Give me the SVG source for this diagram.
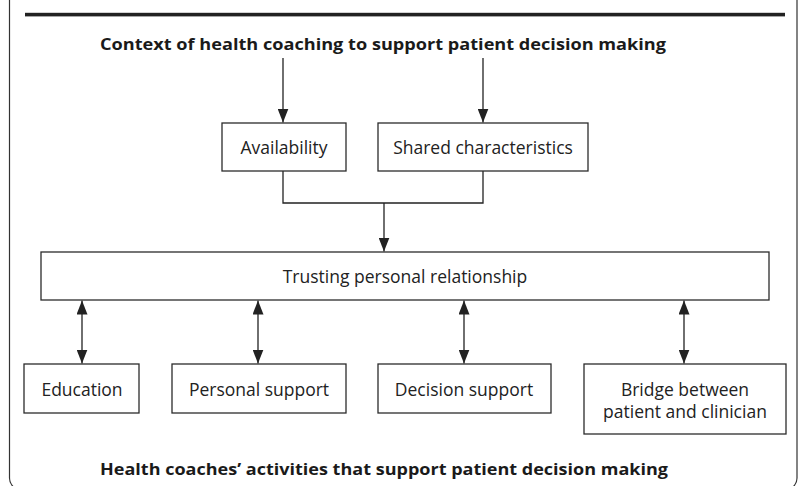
<svg xmlns="http://www.w3.org/2000/svg" width="800" height="486" viewBox="0 0 800 486">
  <defs>
    <style>
      .box { fill: #ffffff; stroke: #2b2b2b; stroke-width: 1.3; }
      .lbl { font-family: "Open Sans", "Noto Sans", "Liberation Sans", sans-serif; font-size: 17.5px; fill: #222222; text-anchor: middle; }
      .ttl { font-family: "Open Sans", "Noto Sans", "Liberation Sans", sans-serif; font-size: 15.6px; font-weight: bold; fill: #1a1a1a; text-anchor: middle; }
      .con { fill: none; stroke: #222222; stroke-width: 1.3; }
    </style>
    <marker id="ah" viewBox="0 0 14 11" refX="14" refY="5.5" markerWidth="14" markerHeight="11" markerUnits="userSpaceOnUse" orient="auto-start-reverse">
      <path d="M0,0 L14,5.5 L0,11 z" fill="#222222"/>
    </marker>
  </defs>
  <rect width="800" height="486" fill="#ffffff"/>
  <g id="frame">
    <rect x="9.5" y="-30" width="787.5" height="520" rx="12" fill="none" stroke="#333333" stroke-width="1.2"/>
    <rect x="25" y="12.8" width="760" height="3.6" fill="#222222"/>
  </g>
  <g id="title-top">
    <text class="ttl" x="383" y="50" textLength="566" lengthAdjust="spacingAndGlyphs">Context of health coaching to support patient decision making</text>
  </g>
  <g id="connectors">
    <line class="con" x1="283" y1="58" x2="283" y2="122.5" marker-end="url(#ah)"/>
    <line class="con" x1="483" y1="58" x2="483" y2="122.5" marker-end="url(#ah)"/>
    <path class="con" d="M283,171 V203 H483 V171"/>
    <line class="con" x1="384" y1="203" x2="384" y2="251.5" marker-end="url(#ah)"/>
    <line class="con" x1="82" y1="300.5" x2="82" y2="363.5" marker-start="url(#ah)" marker-end="url(#ah)"/>
    <line class="con" x1="258" y1="300.5" x2="258" y2="363.5" marker-start="url(#ah)" marker-end="url(#ah)"/>
    <line class="con" x1="464" y1="300.5" x2="464" y2="363.5" marker-start="url(#ah)" marker-end="url(#ah)"/>
    <line class="con" x1="684" y1="300.5" x2="684" y2="363.5" marker-start="url(#ah)" marker-end="url(#ah)"/>
  </g>
  <g id="availability">
    <rect class="box" x="222" y="123" width="124" height="48"/>
    <text class="lbl" x="284" y="154">Availability</text>
  </g>
  <g id="shared-characteristics">
    <rect class="box" x="378" y="123" width="210" height="48"/>
    <text class="lbl" x="483" y="154">Shared characteristics</text>
  </g>
  <g id="trusting-relationship">
    <rect class="box" x="41" y="252" width="728" height="48"/>
    <text class="lbl" x="405" y="283">Trusting personal relationship</text>
  </g>
  <g id="education">
    <rect class="box" x="24" y="364" width="115" height="49"/>
    <text class="lbl" x="82" y="396">Education</text>
  </g>
  <g id="personal-support">
    <rect class="box" x="172" y="364" width="174" height="49"/>
    <text class="lbl" x="259" y="396">Personal support</text>
  </g>
  <g id="decision-support">
    <rect class="box" x="378" y="364" width="173" height="49"/>
    <text class="lbl" x="464" y="396">Decision support</text>
  </g>
  <g id="bridge">
    <rect class="box" x="584" y="364" width="202" height="70"/>
    <text class="lbl" x="685" y="396">Bridge between</text>
    <text class="lbl" x="685" y="418">patient and clinician</text>
  </g>
  <g id="title-bottom">
    <text class="ttl" x="384" y="475" textLength="568" lengthAdjust="spacingAndGlyphs">Health coaches’ activities that support patient decision making</text>
  </g>
</svg>
